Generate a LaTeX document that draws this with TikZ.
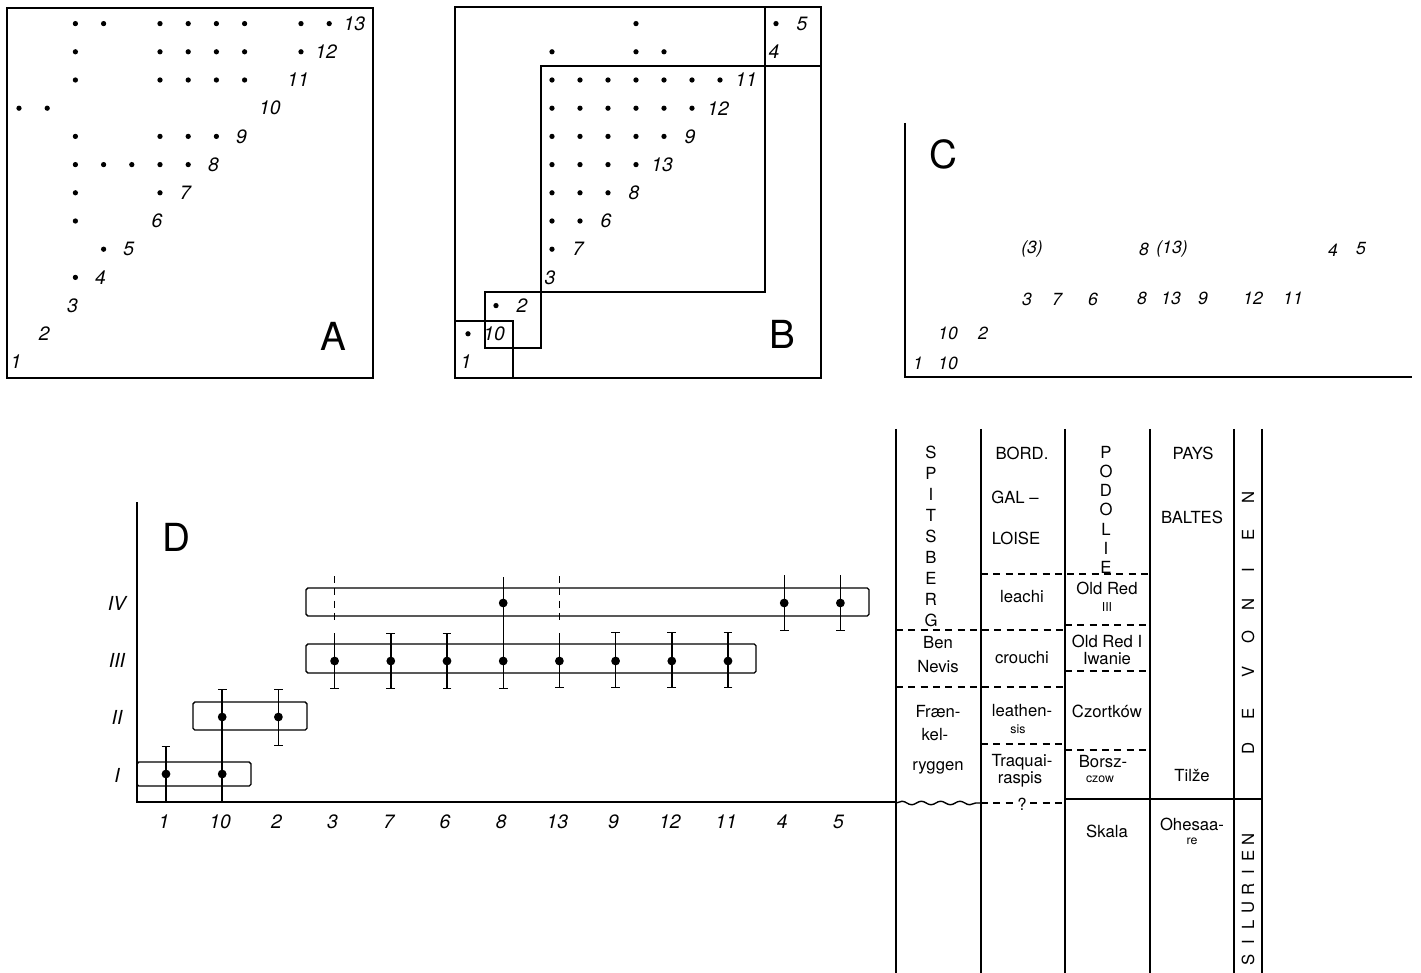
\documentclass[tikz,border=0pt]{standalone}
\usepackage{fontspec}
\setmainfont{TeX Gyre Heros}
\usetikzlibrary{arrows.meta,decorations.pathmorphing}

\begin{document}
\begin{tikzpicture}[x=0.02cm, y=-0.02cm,
    line width=0.8pt,
    num/.style={font=\itshape\fontsize{11}{12}\selectfont, inner sep=0pt},
    cnum/.style={font=\itshape\fontsize{10}{11}\selectfont, inner sep=0pt},
    panel/.style={font=\fontsize{22}{24}\selectfont, inner sep=0pt},
    tab/.style={font=\fontsize{9.5}{10}\selectfont, inner sep=0pt},
    tabsmall/.style={font=\fontsize{7}{8}\selectfont, inner sep=0pt},
    pt/.style={circle, fill, inner sep=0pt, minimum size=3pt},
    bigpt/.style={circle, fill, inner sep=0pt, minimum size=5pt},
    grp/.style={draw, rounded corners=1pt},
    brk/.style={dash pattern=on 4pt off 3pt},
    ebar/.style={{Bar[width=5pt]}-{Bar[width=5pt]}},
    etop/.style={{Bar[width=5pt]}-},
    ebot/.style={-{Bar[width=5pt]}},
  ]
    \useasboundingbox (0,0) rectangle (1421,973);

    % A
    \draw (7,8) rectangle (373,378);
    \foreach \i in {1,...,13}
      \node[num] (a\i) at ({16+(\i-1)*28.2},{362-(\i-1)*28.2}) {\i};
    \foreach \r/\cols in {4/{3},5/{4},6/{3},7/{3,6},8/{3,4,5,6,7},9/{3,6,7,8},
        10/{1,2},11/{3,6,7,8,9},12/{3,6,7,8,9,11},13/{3,4,6,7,8,9,11,12}}
      \foreach \c in \cols
        \node[pt] (a-\r-\c) at ({19+(\c-1)*28.2},{362-(\r-1)*28.2}) {};
    \node[panel] (labA) at (333,336) {A};

    % B
    \draw (455,7) rectangle (821,378);
    \draw (455,321) rectangle (513,378);
    \draw (485,292) rectangle (541,348);
    \draw (541,292) -- (541,66) -- (821,66);
    \draw (765,7) -- (765,292) -- (541,292);
    \foreach \n [count=\i] in {1,10,2,3,7,6,8,13,9,12,11,4,5}
      \node[num] (b\i) at ({466+(\i-1)*28},{362-(\i-1)*28.2}) {\n};
    \foreach \r/\cols in {2/{1},3/{2},5/{4},6/{4,5},7/{4,5,6},8/{4,5,6,7},
        9/{4,5,6,7,8},10/{4,5,6,7,8,9},11/{4,5,6,7,8,9,10},12/{4,7,8},13/{7,12}}
      \foreach \c in \cols
        \node[pt] (b-\r-\c) at ({468+(\c-1)*28},{362-(\r-1)*28.2}) {};
    \node[panel] (labB) at (782,334) {B};

    % C
    \draw (905,123) -- (905,377) -- (1412,377);
    \node[panel] (labC) at (943,154) {C};
    \foreach \n/\x/\y in {1/918/363,10/948/363,10/948/333,2/983/333,
        3/1027/299,7/1057/299,6/1093/299,8/1142/298,13/1171/298,9/1203/298,
        12/1253/298,11/1293/298,(3)/1032/249,8/1144/249,(13)/1172/249,
        4/1333/250,5/1361/249}
      \node[cnum] (c\x\y) at (\x,\y) {\n};

    % D
    \draw (137,502) -- (137,802) -- (896,802);
    \node[panel] (labD) at (176,537) {D};
    \foreach \n/\y in {I/775,II/717,III/660,IV/603}
      \node[num] (lev\n) at (117,\y) {\n};
    \foreach \n [count=\k] in {1,10,2,3,7,6,8,13,9,12,11,4,5}
      \node[num] (d\k) at ({164+(\k-1)*56.2},822) {\n};
    \draw[grp] (137,762) rectangle (251,786);
    \draw[grp] (193,702) rectangle (307,730);
    \draw[grp] (306,644) rectangle (756,673);
    \draw[grp] (306,588) rectangle (869,616);
    \foreach \k/\a/\b/\s in {1/746/802/etop,2/689/802/etop,3/689/746/ebar,
        4/633/689/ebot,5/633/689/ebar,6/633/689/ebar,7/577/689/ebot,
        8/633/688/ebot,9/632/688/ebar,10/632/688/ebar,11/632/688/ebar,
        12/575/631/ebot,13/575/631/ebot}
      \draw[\s] ({166+(\k-1)*56.2},\a) -- ({166+(\k-1)*56.2},\b);
    \foreach \k in {4,8}
      \draw[brk] ({166+(\k-1)*56.2},576) -- ({166+(\k-1)*56.2},623);
    \foreach \k/\y in {1/774,2/774,2/717,3/717,4/661,5/661,6/661,7/661,8/661,
        9/661,10/661,11/661,7/603,12/603,13/603}
      \node[bigpt] (p\k-\y) at ({166+(\k-1)*56.2},\y) {};

    % table
    \foreach \x in {896,981,1065,1150,1234,1262}
      \draw (\x,429) -- (\x,973);
    \draw[brk] (981,574) -- (1150,574);
    \draw[brk] (896,630) -- (1065,630);
    \draw[brk] (1065,625) -- (1150,625);
    \draw[brk] (1065,671) -- (1150,671);
    \draw[brk] (896,687) -- (1065,687);
    \draw[brk] (981,744) -- (1065,744);
    \draw[brk] (1065,750) -- (1150,750);
    \draw[brk] (981,803) -- (1065,803);
    \draw (1065,799) -- (1262,799);
    \draw[decorate, decoration={snake, amplitude=1pt, segment length=11pt}]
      (896,803) -- (981,803);

    \foreach \ch [count=\i] in {S,P,I,T,S,B,E,R,G}
      \node[tab] (sp\i) at (931,{452+(\i-1)*21}) {\ch};
    \node[tab] (ben) at (938,643) {Ben};
    \node[tab] (nevis) at (938,667) {Nevis};
    \node[tab] (fraen) at (938,712) {Fræn-};
    \node[tab] (kel) at (935,735) {kel-};
    \node[tab] (ryggen) at (938,768) {ryggen};

    \node[tab] (bord) at (1022,453) {BORD.};
    \node[tab] (gal) at (1015,497) {GAL –};
    \node[tab] (loise) at (1016,538) {LOISE};
    \node[tab] (leachi) at (1022,597) {leachi};
    \node[tab] (crouchi) at (1022,658) {crouchi};
    \node[tab] (leathen) at (1022,711) {leathen-};
    \node[tabsmall] (sis) at (1018,729) {sis};
    \node[tab] (traq) at (1022,762) {Traquai-};
    \node[tab] (raspis) at (1020,779) {raspis};
    \node[tab, fill=white, inner sep=1pt] (qm) at (1022,804) {?};

    \foreach \ch [count=\i] in {P,O,D,O,L,I,E}
      \node[tab] (po\i) at (1106,{452+(\i-1)*19.3}) {\ch};
    \node[tab] (oldred) at (1107,588) {Old Red};
    \node[tabsmall] (oldiii) at (1107,607) {III};
    \node[tab] (oldredi) at (1107,641) {Old Red I};
    \node[tab] (iwanie) at (1107,659) {Iwanie};
    \node[tab] (czort) at (1107,711) {Czortków};
    \node[tab] (borsz) at (1103,762) {Borsz-};
    \node[tabsmall] (czow) at (1100,779) {czow};
    \node[tab] (skala) at (1107,831) {Skala};

    \node[tab] (pays) at (1193,453) {PAYS};
    \node[tab] (baltes) at (1192,517) {BALTES};
    \node[tab] (tilze) at (1192,776) {Tilže};
    \node[tab] (ohes) at (1192,824) {Ohesaa-};
    \node[tabsmall] (re) at (1192,841) {re};

    \foreach \ch/\y in {D/748,E/714,V/672,O/637,N/604,I/570,E/535,N/497}
      \node[tab, rotate=90] (dv\y) at (1248,\y) {\ch};
    \foreach \ch/\y in {S/960,I/942,L/925,U/907,R/889,I/872,E/856,N/839}
      \node[tab, rotate=90] (si\y) at (1248,\y) {\ch};
  \end{tikzpicture}
\end{document}
